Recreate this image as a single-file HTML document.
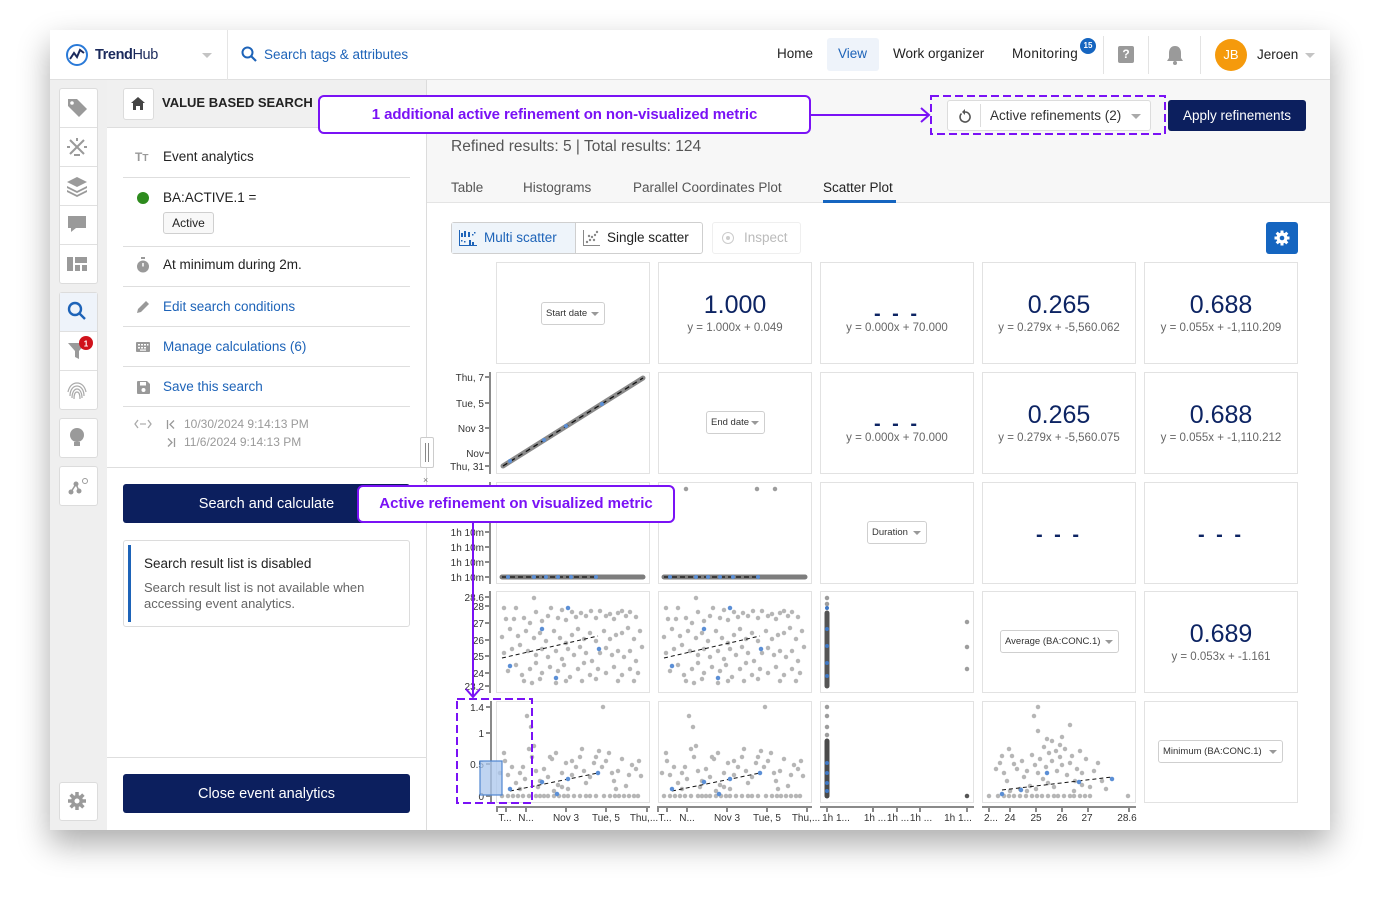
<!DOCTYPE html>
<html><head><meta charset="utf-8">
<style>
*{box-sizing:border-box;margin:0;padding:0}
body{width:1380px;height:900px;background:#fff;font-family:"Liberation Sans",Arial,sans-serif;position:relative;overflow:hidden;color:#222}
.a{position:absolute}
.t{position:absolute;white-space:nowrap;line-height:20px}
.win{left:50px;top:30px;width:1280px;height:800px;background:#fff;box-shadow:0 14px 30px rgba(0,0,0,.33)}
.rb{position:absolute;left:59px;width:39px;background:#fff;border:1px solid #dcdcdc;border-radius:3px}
.div{position:absolute;left:123px;width:287px;height:1px;background:#dedede}
.lnk{color:#1d63b8}
.cell{position:absolute;background:#fff;border:1px solid #e2e2e2;width:154px;height:102px}
.big{position:absolute;left:0;width:100%;text-align:center;color:#0d2463;font-size:25px;line-height:30px;top:27px}
.eq{position:absolute;left:0;width:100%;text-align:center;color:#666;font-size:11.5px;line-height:14px;top:58px}
.dash{position:absolute;left:0;width:100%;text-align:center;color:#0d2463;font-size:20px;font-weight:bold;line-height:20px;top:41px;letter-spacing:3px}
.dd{position:absolute;border:1px solid #cfcfcf;border-radius:3px;background:#fff;font-size:9.5px;color:#333;line-height:21px;height:23px;padding-left:4px;white-space:nowrap}
.dd:after{content:"";position:absolute;right:5px;top:9px;border-left:4px solid transparent;border-right:4px solid transparent;border-top:4px solid #999}
.btn{position:absolute;background:#0c1f5e;border-radius:3px;color:#fff;text-align:center}
.purple{border:2px solid #7a12f5;border-radius:6px;background:#fff;color:#7a12f5;font-weight:bold;font-size:15px;text-align:center;white-space:nowrap}
</style></head><body>
<div class="a win"></div>

<!-- header -->
<div class="a" style="left:50px;top:79px;width:1280px;height:1px;background:#e0e0e0"></div>
<svg class="a" style="left:65px;top:43px" width="24" height="24" viewBox="0 0 24 24"><circle cx="12" cy="12" r="10" fill="none" stroke="#2a7ad8" stroke-width="2"/><polyline points="5,16 9,10 12,14 15,7 19,10" fill="none" stroke="#1b2a5c" stroke-width="2"/></svg>
<div class="t" style="left:95px;top:45px;font-size:14.5px;color:#1b2a5c;letter-spacing:-0.4px"><b>Trend</b>Hub</div>
<div class="a" style="left:202px;top:53px;border-left:5px solid transparent;border-right:5px solid transparent;border-top:5px solid #c4c4c4"></div>
<div class="a" style="left:227px;top:30px;width:1px;height:50px;background:#e5e5e5"></div>
<svg class="a" style="left:241px;top:46px" width="17" height="17" viewBox="0 0 17 17"><circle cx="6.5" cy="6.5" r="5" fill="none" stroke="#1d63b8" stroke-width="2"/><line x1="10" y1="10" x2="15" y2="15" stroke="#1d63b8" stroke-width="2.2"/></svg>
<div class="t lnk" style="left:264px;top:45px;font-size:13.5px">Search tags &amp; attributes</div>
<div class="t" style="left:777px;top:44px;font-size:13.5px">Home</div>
<div class="a" style="left:827px;top:38px;width:52px;height:33px;background:#eef3fa;border-radius:3px"></div>
<div class="t lnk" style="left:838px;top:44px;font-size:13.5px">View</div>
<div class="t" style="left:893px;top:44px;font-size:13.5px">Work organizer</div>
<div class="t" style="left:1012px;top:44px;font-size:13.5px;letter-spacing:0.3px">Monitoring</div>
<div class="a" style="left:1080px;top:38px;width:16px;height:16px;border-radius:50%;background:#1565c0;color:#fff;font-size:8px;font-weight:bold;text-align:center;line-height:16px">15</div>
<div class="a" style="left:1103px;top:36px;width:1px;height:38px;background:#e3e3e3"></div>
<div class="a" style="left:1118px;top:46px;width:16px;height:17px;border-radius:2px;background:#9a9a9a;color:#fff;font-size:12px;font-weight:bold;text-align:center;line-height:17px">?</div>
<div class="a" style="left:1148px;top:36px;width:1px;height:38px;background:#e3e3e3"></div>
<svg class="a" style="left:1166px;top:45px" width="18" height="20" viewBox="0 0 18 20"><path d="M9 1c-4 0-6 3-6 7v5l-2 3h16l-2-3V8c0-4-2-7-6-7z" fill="#9a9a9a"/><circle cx="9" cy="18" r="2" fill="#9a9a9a"/></svg>
<div class="a" style="left:1200px;top:36px;width:1px;height:38px;background:#e3e3e3"></div>
<div class="a" style="left:1215px;top:39px;width:32px;height:32px;border-radius:50%;background:#f59a0c;color:#fff;font-size:13px;text-align:center;line-height:32px">JB</div>
<div class="t" style="left:1257px;top:45px;font-size:13.5px">Jeroen</div>
<div class="a" style="left:1305px;top:53px;border-left:5px solid transparent;border-right:5px solid transparent;border-top:5px solid #c4c4c4"></div>

<!-- left rail -->
<div class="a" style="left:50px;top:80px;width:57px;height:750px;background:#efefef"></div>
<div class="rb" style="top:88px;height:196px"></div>
<div class="a" style="left:60px;top:127px;width:37px;height:1px;background:#e0e0e0"></div>
<div class="a" style="left:60px;top:166px;width:37px;height:1px;background:#e0e0e0"></div>
<div class="a" style="left:60px;top:205px;width:37px;height:1px;background:#e0e0e0"></div>
<div class="a" style="left:60px;top:244px;width:37px;height:1px;background:#e0e0e0"></div>
<div class="rb" style="top:292px;height:118px"></div>
<div class="a" style="left:60px;top:293px;width:37px;height:38px;background:#eef3fa"></div>
<div class="a" style="left:60px;top:331px;width:37px;height:1px;background:#e0e0e0"></div>
<div class="a" style="left:60px;top:370px;width:37px;height:1px;background:#e0e0e0"></div>
<div class="rb" style="top:418px;height:40px"></div>
<div class="rb" style="top:466px;height:40px"></div>
<div class="rb" style="top:782px;height:39px"></div>
<svg class="a" style="left:50px;top:80px" width="57" height="750" viewBox="50 80 57 750">
 <g fill="#9a9a9a">
  <path d="M68 99h9l10 10-8 8-11-11z"/><circle cx="72" cy="103" r="1.8" fill="#fff"/>
  <g stroke="#9a9a9a" stroke-width="2"><line x1="70" y1="140" x2="84" y2="154"/><line x1="84" y1="140" x2="70" y2="154"/><line x1="77" y1="138" x2="77" y2="141"/><line x1="67" y1="147" x2="70" y2="147"/><line x1="84" y1="147" x2="87" y2="147"/><line x1="74" y1="155" x2="80" y2="155"/></g>
  <path d="M77 177l10 5-10 5-10-5z"/><path d="M67 186l10 5 10-5v2l-10 5-10-5z"/><path d="M67 190l10 5 10-5v2l-10 5-10-5z"/>
  <path d="M68 216h18v12h-10l-5 4v-4h-3z"/>
  <rect x="67" y="257" width="6" height="14"/><rect x="75" y="257" width="12" height="6"/><rect x="75" y="265" width="5" height="6"/><rect x="82" y="265" width="5" height="6"/>
  <path d="M68 343h18l-7 8v8l-4-2v-6z"/>
  <g fill="none" stroke="#aaa" stroke-width="1.2"><path d="M70 396c0-6 3-10 7-10s7 4 7 10"/><path d="M72 398c0-5 2-9 5-9s5 4 5 9"/><path d="M74 399c0-4 1-7 3-7s3 3 3 7"/><path d="M68 392c1-5 4-9 9-9s8 4 9 9"/></g>
  <circle cx="77" cy="435" r="7"/><rect x="74" y="442" width="6" height="4"/>
  <circle cx="71" cy="492" r="2.5"/><circle cx="76" cy="484" r="2.5"/><circle cx="79" cy="491" r="2.5"/><circle cx="85" cy="481" r="2.5" fill="none" stroke="#9a9a9a"/>
  <g stroke="#9a9a9a" stroke-width="1.5"><line x1="71" y1="492" x2="76" y2="484"/><line x1="76" y1="484" x2="79" y2="491"/></g>
 </g>
 <g fill="none" stroke="#1d63b8" stroke-width="2.4"><circle cx="75" cy="309" r="6"/><line x1="79" y1="313" x2="85" y2="319"/></g>
 <circle cx="86" cy="343" r="7" fill="#d0121b"/><text x="86" y="346.5" font-size="8" fill="#fff" text-anchor="middle" font-family="Liberation Sans" font-weight="bold">1</text>
 <g transform="translate(77 801)" fill="#9a9a9a"><circle r="6"/><g stroke="#9a9a9a" stroke-width="3.5"><line x1="-9" y1="0" x2="9" y2="0"/><line x1="0" y1="-9" x2="0" y2="9"/><line x1="-6.4" y1="-6.4" x2="6.4" y2="6.4"/><line x1="-6.4" y1="6.4" x2="6.4" y2="-6.4"/></g><circle r="2.5" fill="#fff"/></g>
</svg>

<!-- left panel -->
<div class="a" style="left:107px;top:80px;width:320px;height:48px;background:#f0f0f0;border-bottom:1px solid #dedede"></div>
<div class="a" style="left:426px;top:80px;width:1px;height:750px;background:#dcdcdc"></div>
<div class="a" style="left:123px;top:88px;width:31px;height:32px;background:#fff;border:1px solid #dcdcdc;border-radius:3px"></div>
<svg class="a" style="left:131px;top:97px" width="14" height="13" viewBox="0 0 14 13"><path d="M7 0l7 6h-2v7H9V9H5v4H2V6H0z" fill="#444"/></svg>
<div class="t" style="left:162px;top:93px;font-size:13px;font-weight:bold">VALUE BASED SEARCH</div>

<div class="t" style="left:135px;top:147px;font-size:12px;font-weight:bold;color:#999">T<span style="font-size:10px">T</span></div>
<div class="t" style="left:163px;top:147px;font-size:13.5px">Event analytics</div>
<div class="div" style="top:177px"></div>
<div class="a" style="left:137px;top:192px;width:12px;height:12px;border-radius:50%;background:#2e8b1e"></div>
<div class="t" style="left:163px;top:188px;font-size:13.5px">BA:ACTIVE.1 =</div>
<div class="a" style="left:163px;top:212px;width:51px;height:22px;border:1px solid #cfcfcf;border-radius:3px;background:#f8f8f8;font-size:12px;text-align:center;line-height:20px">Active</div>
<div class="div" style="top:246px"></div>
<svg class="a" style="left:136px;top:257px" width="14" height="16" viewBox="0 0 14 16"><rect x="5" y="0" width="4" height="2" fill="#999"/><circle cx="7" cy="9.5" r="6" fill="#999"/><line x1="7" y1="9.5" x2="7" y2="6" stroke="#fff" stroke-width="1.5"/></svg>
<div class="t" style="left:163px;top:255px;font-size:13.5px">At minimum during 2m.</div>
<div class="div" style="top:286px"></div>
<svg class="a" style="left:136px;top:300px" width="14" height="14" viewBox="0 0 14 14"><path d="M1 13l1-4 8-8 3 3-8 8z" fill="#999"/></svg>
<div class="t lnk" style="left:163px;top:297px;font-size:13.5px">Edit search conditions</div>
<div class="div" style="top:326px"></div>
<svg class="a" style="left:136px;top:342px" width="14" height="10" viewBox="0 0 14 10"><rect width="14" height="10" rx="1" fill="#999"/><g fill="#fff"><rect x="2" y="2" width="2" height="1.5"/><rect x="5" y="2" width="2" height="1.5"/><rect x="8" y="2" width="2" height="1.5"/><rect x="11" y="2" width="1.5" height="1.5"/><rect x="2" y="5" width="2" height="1.5"/><rect x="5" y="5" width="2" height="1.5"/><rect x="8" y="5" width="2" height="1.5"/><rect x="4" y="7.5" width="6" height="1.2"/></g></svg>
<div class="t lnk" style="left:163px;top:337px;font-size:13.5px">Manage calculations (6)</div>
<div class="div" style="top:366px"></div>
<svg class="a" style="left:137px;top:381px" width="13" height="13" viewBox="0 0 13 13"><path d="M0 1a1 1 0 0 1 1-1h9l3 3v9a1 1 0 0 1-1 1H1a1 1 0 0 1-1-1z" fill="#999"/><rect x="3" y="1" width="6" height="3.5" fill="#fff"/><circle cx="6.5" cy="9" r="2" fill="#fff"/></svg>
<div class="t lnk" style="left:163px;top:377px;font-size:13.5px">Save this search</div>
<div class="div" style="top:406px"></div>
<svg class="a" style="left:134px;top:419px" width="18" height="10" viewBox="0 0 18 10"><path d="M4 1L1 5l3 4M14 1l3 4-3 4" fill="none" stroke="#aaa" stroke-width="1.3"/><circle cx="7" cy="5" r="0.9" fill="#aaa"/><circle cx="9" cy="5" r="0.9" fill="#aaa"/><circle cx="11" cy="5" r="0.9" fill="#aaa"/></svg>
<svg class="a" style="left:166px;top:419px" width="10" height="30" viewBox="0 0 10 30"><g fill="none" stroke="#999" stroke-width="1.3"><line x1="1.5" y1="1" x2="1.5" y2="10"/><path d="M8 1.5L4 5.5l4 4"/><line x1="8.5" y1="19" x2="8.5" y2="28"/><path d="M2 19.5l4 4-4 4"/></g></svg>
<div class="t" style="left:184px;top:414px;font-size:12px;color:#9a9a9a">10/30/2024 9:14:13 PM</div>
<div class="t" style="left:184px;top:432px;font-size:12px;color:#9a9a9a">11/6/2024 9:14:13 PM</div>
<div class="a" style="left:107px;top:467px;width:320px;height:1px;background:#dedede"></div>
<div class="a" style="left:420px;top:437px;width:14px;height:31px;background:#fff;border:1px solid #ccc;border-radius:2px"></div>
<div class="a" style="left:425px;top:443px;width:1px;height:19px;background:#888"></div>
<div class="a" style="left:428px;top:443px;width:1px;height:19px;background:#888"></div>
<div class="t" style="left:423px;top:470px;font-size:9px;color:#777">×</div>

<div class="btn" style="left:123px;top:484px;width:287px;height:39px;font-size:14.5px;line-height:40px">Search and calculate</div>
<div class="a" style="left:123px;top:540px;width:287px;height:87px;border:1px solid #dcdcdc;border-radius:3px"></div>
<div class="a" style="left:128px;top:545px;width:3px;height:77px;background:#1d63b8"></div>
<div class="t" style="left:144px;top:554px;font-size:13.5px">Search result list is disabled</div>
<div class="a" style="left:144px;top:580px;font-size:13px;color:#666;line-height:16px;width:260px">Search result list is not available when accessing event analytics.</div>
<div class="a" style="left:107px;top:757px;width:320px;height:1px;background:#dedede"></div>
<div class="btn" style="left:123px;top:774px;width:287px;height:39px;font-size:14.5px;line-height:40px">Close event analytics</div>

<!-- main top -->
<div class="a" style="left:427px;top:80px;width:903px;height:123px;background:#f7f7f7;border-bottom:1px solid #e4e4e4"></div>
<div class="t" style="left:451px;top:137px;font-size:15.5px;color:#555">Refined results: 5 | Total results: 124</div>
<div class="t" style="left:451px;top:178px;font-size:13.5px;color:#555">Table</div>
<div class="t" style="left:523px;top:178px;font-size:13.5px;color:#555">Histograms</div>
<div class="t" style="left:633px;top:178px;font-size:13.5px;color:#555">Parallel Coordinates Plot</div>
<div class="t" style="left:823px;top:178px;font-size:13.5px;color:#222">Scatter Plot</div>
<div class="a" style="left:823px;top:200px;width:73px;height:3px;background:#1565c0"></div>

<div class="a" style="left:947px;top:100px;width:204px;height:31px;background:#fff;border:1px solid #dcdcdc;border-radius:3px"></div>
<svg class="a" style="left:958px;top:108px" width="14" height="15" viewBox="0 0 14 15"><path d="M3.5 5.5a5 5 0 1 0 3.5-1.5" fill="none" stroke="#555" stroke-width="1.6"/><path d="M7 1v6l-3-3z" fill="#555"/></svg>
<div class="a" style="left:980px;top:104px;width:1px;height:23px;background:#dcdcdc"></div>
<div class="t" style="left:990px;top:106px;font-size:13.5px;color:#333">Active refinements (2)</div>
<div class="a" style="left:1131px;top:114px;border-left:5px solid transparent;border-right:5px solid transparent;border-top:5px solid #aaa"></div>
<div class="btn" style="left:1168px;top:100px;width:138px;height:31px;font-size:13.5px;line-height:31px">Apply refinements</div>

<!-- toolbar -->
<div class="a" style="left:451px;top:222px;width:252px;height:32px;border:1px solid #cfcfcf;border-radius:3px;background:#fff"></div>
<div class="a" style="left:452px;top:223px;width:123px;height:30px;background:#eef4fa"></div>
<div class="a" style="left:575px;top:223px;width:1px;height:30px;background:#cfcfcf"></div>
<svg class="a" style="left:459px;top:230px" width="18" height="16" viewBox="0 0 18 16"><g fill="#1d63b8"><rect x="0" y="0" width="1" height="16"/><rect x="0" y="15" width="18" height="1"/><rect x="2" y="3" width="2" height="4"/><rect x="5" y="1" width="2" height="6"/><rect x="9" y="2" width="2" height="5"/><rect x="13" y="4" width="1.5" height="1.5"/><rect x="15" y="2" width="1.5" height="1.5"/><rect x="2" y="10" width="1.5" height="1.5"/><rect x="5" y="11" width="1.5" height="1.5"/><rect x="10" y="10" width="2" height="5"/><rect x="13" y="12" width="2" height="3"/></g></svg>
<div class="t lnk" style="left:484px;top:228px;font-size:13.5px">Multi scatter</div>
<svg class="a" style="left:583px;top:230px" width="17" height="16" viewBox="0 0 17 16"><g fill="#888"><rect x="0" y="0" width="1" height="16"/><rect x="0" y="15" width="17" height="1"/><circle cx="4" cy="12" r="1.2"/><circle cx="7" cy="10" r="1.2"/><circle cx="9" cy="7" r="1.2"/><circle cx="12" cy="5" r="1.2"/><circle cx="14" cy="2" r="1.2"/><circle cx="6" cy="6" r="1.2"/><circle cx="11" cy="10" r="1.2"/></g></svg>
<div class="t" style="left:607px;top:228px;font-size:13.5px">Single scatter</div>
<div class="a" style="left:712px;top:222px;width:89px;height:32px;border:1px solid #efefef;border-radius:3px"></div>
<div class="a" style="left:722px;top:232px;width:12px;height:12px;border:1px solid #ccc;border-radius:50%"></div>
<div class="a" style="left:726px;top:236px;width:4px;height:4px;background:#ccc;border-radius:50%"></div>
<div class="t" style="left:744px;top:228px;font-size:13.5px;color:#bbb">Inspect</div>
<div class="a" style="left:1266px;top:222px;width:32px;height:32px;background:#1565c0;border-radius:3px"></div>
<svg class="a" style="left:1273px;top:229px" width="18" height="18" viewBox="-9 -9 18 18"><g fill="#fff"><circle r="5.5"/><g stroke="#fff" stroke-width="3"><line x1="-7.5" y1="0" x2="7.5" y2="0"/><line x1="0" y1="-7.5" x2="0" y2="7.5"/><line x1="-5.3" y1="-5.3" x2="5.3" y2="5.3"/><line x1="-5.3" y1="5.3" x2="5.3" y2="-5.3"/></g><circle r="2.3" fill="#1565c0"/></g></svg>

<!-- grid cells -->
<div class="cell" style="left:496px;top:262px"><div class="dd" style="left:44px;top:39px;width:64px">Start date</div></div>
<div class="cell" style="left:658px;top:262px"><div class="big">1.000</div><div class="eq">y = 1.000x + 0.049</div></div>
<div class="cell" style="left:820px;top:262px"><div class="dash">- - -</div><div class="eq">y = 0.000x + 70.000</div></div>
<div class="cell" style="left:982px;top:262px"><div class="big">0.265</div><div class="eq">y = 0.279x + -5,560.062</div></div>
<div class="cell" style="left:1144px;top:262px"><div class="big">0.688</div><div class="eq">y = 0.055x + -1,110.209</div></div>

<div class="cell" style="left:496px;top:372px"></div>
<div class="cell" style="left:658px;top:372px"><div class="dd" style="left:47px;top:38px;width:59px">End date</div></div>
<div class="cell" style="left:820px;top:372px"><div class="dash">- - -</div><div class="eq">y = 0.000x + 70.000</div></div>
<div class="cell" style="left:982px;top:372px"><div class="big">0.265</div><div class="eq">y = 0.279x + -5,560.075</div></div>
<div class="cell" style="left:1144px;top:372px"><div class="big">0.688</div><div class="eq">y = 0.055x + -1,110.212</div></div>

<div class="cell" style="left:496px;top:482px"></div>
<div class="cell" style="left:658px;top:482px"></div>
<div class="cell" style="left:820px;top:482px"><div class="dd" style="left:46px;top:38px;width:60px">Duration</div></div>
<div class="cell" style="left:982px;top:482px"><div class="dash" style="top:42px">- - -</div></div>
<div class="cell" style="left:1144px;top:482px"><div class="dash" style="top:42px">- - -</div></div>

<div class="cell" style="left:496px;top:591px"></div>
<div class="cell" style="left:658px;top:591px"></div>
<div class="cell" style="left:820px;top:591px"></div>
<div class="cell" style="left:982px;top:591px"><div class="dd" style="left:17px;top:38px;width:119px">Average (BA:CONC.1)</div></div>
<div class="cell" style="left:1144px;top:591px"><div class="big">0.689</div><div class="eq">y = 0.053x + -1.161</div></div>

<div class="cell" style="left:496px;top:701px"></div>
<div class="cell" style="left:658px;top:701px"></div>
<div class="cell" style="left:820px;top:701px"></div>
<div class="cell" style="left:982px;top:701px"></div>
<div class="cell" style="left:1144px;top:701px"><div class="dd" style="left:13px;top:38px;width:125px">Minimum (BA:CONC.1)</div></div>

<!-- plots -->
<svg class="a" style="left:0;top:0" width="1380" height="900" viewBox="0 0 1380 900" font-family="Liberation Sans, Arial, sans-serif">
<defs>
 <g id="s4">
  <path stroke="#9d9d9d" stroke-opacity=".75" stroke-width="4.5" stroke-linecap="round" fill="none" d="M38 7h0M8 17h0M20 17h0M10 28h0M18 28h0M28 27h0M34 32h0M40 21h0M46 30h0M52 25h0M55 17h0M62 27h0M66 19h0M70 29h0M76 21h0M80 26h0M85 22h0M90 25h0M95 20h0M100 27h0M104 20h0M110 25h0M114 23h0M118 28h0M122 22h0M126 20h0M130 25h0M134 21h0M140 26h0M6 46h0M14 38h0M22 45h0M30 40h0M38 47h0M44 42h0M50 50h0M58 40h0M64 47h0M70 52h0M76 44h0M82 38h0M88 48h0M94 42h0M100 50h0M108 40h0M114 48h0M120 44h0M126 42h0M132 37h0M138 48h0M144 40h0M8 62h0M16 58h0M24 54h0M32 60h0M40 64h0M46 58h0M52 66h0M60 60h0M66 68h0M72 58h0M78 64h0M84 56h0M90 62h0M96 70h0M104 62h0M110 57h0M116 64h0M122 60h0M128 66h0M134 60h0M140 70h0M146 56h0M12 80h0M20 74h0M26 84h0M34 78h0M40 72h0M46 82h0M54 76h0M62 80h0M68 74h0M74 86h0M82 78h0M88 72h0M94 84h0M102 78h0M110 82h0M118 76h0M126 84h0M134 78h0M142 82h0M28 90h0M36 92h0M44 88h0M60 92h0M70 90h0M86 90h0M100 88h0M122 90h0M138 90h0"/>
  <path d="M6 67L102 45" stroke="#111" stroke-width="1" stroke-dasharray="4 3"/>
  <path stroke="#5b8fd6" stroke-width="4.5" stroke-linecap="round" d="M72 17h0M46 38h0M14 75h0M60 87h0M103 58h0"/>
 </g>
 <g id="s5">
  <path stroke="#9d9d9d" stroke-opacity=".75" stroke-width="4.5" stroke-linecap="round" fill="none" d="M6 95h0M12 95h0M17 95h0M22 95h0M27 95h0M33 95h0M40 95h0M44 95h0M48 95h0M52 95h0M58 95h0M63 95h0M68 95h0M72 95h0M78 95h0M84 95h0M90 95h0M94 95h0M100 95h0M108 95h0M114 95h0M119 95h0M123 95h0M128 95h0M133 95h0M138 95h0M142 95h0M31 15h0M35 26h0M107 6h0M9 60h0M12 74h0M16 66h0M20 82h0M24 72h0M27 66h0M29 78h0M33 48h0M36 56h0M38 45h0M40 70h0M44 80h0M48 68h0M52 76h0M56 58h0M60 52h0M62 84h0M66 72h0M70 62h0M72 88h0M76 74h0M80 66h0M84 56h0M88 70h0M90 82h0M94 76h0M98 62h0M100 56h0M103 50h0M106 66h0M110 60h0M113 52h0M116 72h0M118 80h0M122 70h0M126 58h0M130 85h0M133 74h0M136 64h0M140 68h0M143 60h0M145 75h0M54 56h0M86 48h0M76 60h0M66 86h0M120 88h0M58 90h0M42 86h0M24 88h0M4 72h0M8 52h0"/>
  <path d="M14 90L102 72" stroke="#111" stroke-width="1" stroke-dasharray="4 3"/>
  <path stroke="#5b8fd6" stroke-width="4.5" stroke-linecap="round" d="M14 88h0M46 81h0M61 93h0M72 78h0M102 72h0"/>
 </g>
 <g id="s3">
  <path d="M6 95H147" stroke="#7d7d7d" stroke-width="5" stroke-linecap="round"/>
  <path d="M6 95H100" stroke="#111" stroke-width="1.2" stroke-dasharray="5 3"/>
  <path stroke="#5b8fd6" stroke-width="4" stroke-linecap="round" d="M12 95h0M38 95h0M50 95h0M62 95h0M75 95h0M100 95h0"/>
 </g>
</defs>

<g transform="translate(496 372)">
 <path d="M7 94L147 6" stroke="#8a8a8a" stroke-width="5" stroke-linecap="round"/>
 <path d="M7 94L147 6" stroke="#111" stroke-width="1.3" stroke-dasharray="5 4"/>
 <path stroke="#5b8fd6" stroke-width="4" stroke-linecap="round" d="M14 89h0M48 68h0M70 54h0M106 32h0"/>
</g>
<use href="#s3" x="496" y="482"/>
<use href="#s3" x="658" y="482"/>
<path stroke="#9d9d9d" stroke-width="4.5" stroke-linecap="round" d="M686 489h0M757 489h0M775 489h0"/>
<use href="#s4" x="496" y="591"/>
<use href="#s4" x="658" y="591"/>
<g transform="translate(820 591)">
 <path d="M7 22V95" stroke="#555" stroke-width="5" stroke-linecap="round"/>
 <path stroke="#9d9d9d" stroke-width="4.5" stroke-linecap="round" d="M7 7h0M7 13h0M147 31h0M147 56h0M147 78h0"/>
 <path stroke="#3f78c4" stroke-width="4" stroke-linecap="round" d="M7 17h0M7 38h0M7 55h0M7 72h0M7 85h0"/>
</g>
<use href="#s5" x="496" y="701"/>
<use href="#s5" x="658" y="701"/>
<g transform="translate(820 701)">
 <path d="M7 40V95" stroke="#4a4a4a" stroke-width="5" stroke-linecap="round"/>
 <path stroke="#9d9d9d" stroke-width="4.5" stroke-linecap="round" d="M7 6h0M7 15h0M7 26h0M7 34h0"/>
 <path stroke="#3f78c4" stroke-width="4" stroke-linecap="round" d="M7 62h0M7 72h0M7 82h0M7 90h0"/>
 <path stroke="#555" stroke-width="4.5" stroke-linecap="round" d="M147 95h0"/>
</g>
<g transform="translate(982 701)">
 <path stroke="#9d9d9d" stroke-opacity=".75" stroke-width="4.5" stroke-linecap="round" fill="none" d="M7 95h0M16 95h0M22 95h0M27 95h0M32 95h0M38 95h0M44 95h0M50 95h0M55 95h0M60 95h0M66 95h0M72 95h0M76 95h0M82 95h0M88 95h0M92 95h0M98 95h0M103 95h0M108 95h0M146 95h0M56 6h0M52 15h0M88 24h0M65 38h0M80 36h0M70 40h0M56 30h0M18 62h0M22 72h0M25 80h0M30 55h0M32 63h0M35 68h0M40 60h0M42 76h0M45 70h0M48 85h0M50 54h0M53 64h0M56 72h0M58 58h0M61 78h0M64 66h0M67 52h0M70 60h0M72 86h0M75 70h0M78 56h0M80 64h0M83 48h0M85 74h0M88 62h0M90 55h0M93 80h0M95 68h0M98 50h0M100 72h0M104 58h0M108 86h0M112 70h0M116 62h0M120 80h0M124 88h0M74 50h0M66 82h0M54 88h0M38 88h0M28 90h0M92 90h0M100 84h0M27 48h0M20 55h0M45 90h0M14 68h0M78 44h0M62 46h0"/>
 <path d="M20 89L130 76" stroke="#111" stroke-width="1" stroke-dasharray="4 3"/>
 <path stroke="#5b8fd6" stroke-width="4.5" stroke-linecap="round" d="M20 93h0M39 89h0M65 72h0M97 81h0M130 78h0"/>
</g>

<g stroke="#8a8a8a" stroke-width="2" fill="none">
 <path d="M490 372V474M490 482V584M490 591V693M491 701V803"/>
 <path d="M485 377h5M485 403h5M485 428h5M485 453h5M485 466h5M485 532h5M485 547h5M485 562h5M485 577h5M485 597h5M485 606h5M485 623h5M485 640h5M485 656h5M485 673h5M485 686h5M486 707h5M486 733h5M486 764h5M486 796h5"/>
</g>
<g font-size="10" fill="#333" text-anchor="end">
 <text x="484" y="381">Thu, 7</text><text x="484" y="407">Tue, 5</text><text x="484" y="432">Nov 3</text><text x="484" y="457">Nov</text><text x="484" y="470">Thu, 31</text>
 <text x="484" y="536">1h 10m</text><text x="484" y="551">1h 10m</text><text x="484" y="566">1h 10m</text><text x="484" y="581">1h 10m</text>
 <text x="484" y="601">28.6</text><text x="484" y="610">28</text><text x="484" y="627">27</text><text x="484" y="644">26</text><text x="484" y="660">25</text><text x="484" y="677">24</text><text x="484" y="690">23.2</text>
 <text x="484" y="711">1.4</text><text x="484" y="737">1</text><text x="484" y="768">0.5</text><text x="484" y="800">0</text>
</g>
<g stroke="#8a8a8a" stroke-width="2" fill="none">
 <path d="M496 807H650M657 807H812M820 807H974M982 807H1136"/>
 <path d="M497 807v5M506 807v5M526 807v5M566 807v5M606 807v5M647 807v5M658 807v5M667 807v5M687 807v5M727 807v5M767 807v5M807 807v5M827 807v5M873 807v5M897 807v5M920 807v5M967 807v5M989 807v5M1010 807v5M1036 807v5M1062 807v5M1088 807v5M1129 807v5"/>
</g>
<g font-size="10" fill="#333" text-anchor="middle">
 <text x="505" y="821">T...</text><text x="526" y="821">N...</text><text x="566" y="821">Nov 3</text><text x="606" y="821">Tue, 5</text><text x="644" y="821">Thu,...</text>
 <text x="665" y="821">T...</text><text x="687" y="821">N...</text><text x="727" y="821">Nov 3</text><text x="767" y="821">Tue, 5</text><text x="806" y="821">Thu,...</text>
 <text x="836" y="821">1h 1...</text><text x="875" y="821">1h ...</text><text x="898" y="821">1h ...</text><text x="921" y="821">1h ...</text><text x="958" y="821">1h 1...</text>
 <text x="991" y="821">2...</text><text x="1010" y="821">24</text><text x="1036" y="821">25</text><text x="1062" y="821">26</text><text x="1087" y="821">27</text><text x="1127" y="821">28.6</text>
</g>
<rect x="480" y="761" width="22" height="34" fill="#a9c6ec" fill-opacity=".75" stroke="#4f86d0" stroke-width="1.2"/>

<g stroke="#7a12f5" stroke-width="2" fill="none">
 <path d="M810 115H929"/><path d="M921 108L929 115L921 122"/>
 <rect x="931" y="96" width="234" height="38" stroke-dasharray="8 4"/>
 <path d="M473 522V697"/><path d="M466 689L473 697L480 689"/>
 <rect x="457" y="699" width="75" height="104" stroke-dasharray="8 4"/>
</g>
</svg>

<div class="a purple" style="left:318px;top:95px;width:493px;height:39px;line-height:35px;letter-spacing:-0.1px">1 additional active refinement on non-visualized metric</div>
<div class="a purple" style="left:357px;top:485px;width:318px;height:38px;line-height:34px">Active refinement on visualized metric</div>
</body></html>
